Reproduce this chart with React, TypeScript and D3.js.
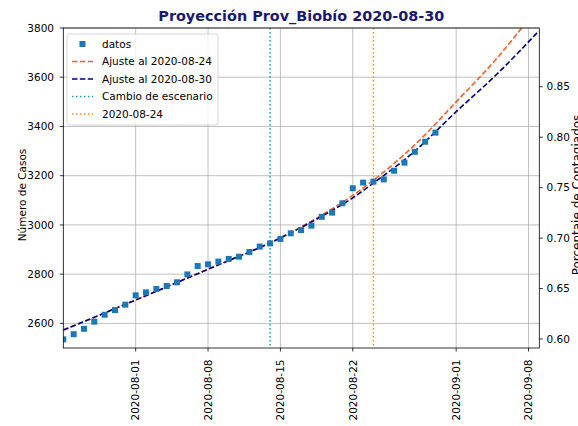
import React from "react";
import * as d3 from "d3";

const dataDates = [
  "2020-07-25","2020-07-26","2020-07-27","2020-07-28","2020-07-29","2020-07-30","2020-07-31",
  "2020-08-01","2020-08-02","2020-08-03","2020-08-04","2020-08-05","2020-08-06","2020-08-07",
  "2020-08-08","2020-08-09","2020-08-10","2020-08-11","2020-08-12","2020-08-13","2020-08-14",
  "2020-08-15","2020-08-16","2020-08-17","2020-08-18","2020-08-19","2020-08-20","2020-08-21",
  "2020-08-22","2020-08-23","2020-08-24","2020-08-25","2020-08-26","2020-08-27","2020-08-28",
  "2020-08-29","2020-08-30",
];
const dataValues = [
  2535, 2556, 2578, 2607, 2635, 2654, 2676,
  2714, 2726, 2740, 2752, 2767, 2799, 2833,
  2840, 2851, 2862, 2871, 2890, 2912, 2925,
  2943, 2966, 2979, 2997, 3033, 3050, 3088,
  3149, 3172, 3176, 3185, 3220, 3253, 3297,
  3338, 3375,
];

const fitDates = [
  "2020-07-25","2020-08-01","2020-08-08","2020-08-15","2020-08-19","2020-08-22",
  "2020-08-24","2020-08-28","2020-09-01","2020-09-05","2020-09-09",
];
const fit0830 = [2573, 2695, 2820, 2947, 3035, 3110, 3170, 3300, 3460, 3615, 3788];
const fit0824 = [2573, 2695, 2820, 2948, 3040, 3120, 3182, 3325, 3500, 3680, 3890];

const cambioDate = "2020-08-14";
const refDate = "2020-08-24";

const xTickDates = ["2020-08-01","2020-08-08","2020-08-15","2020-08-22","2020-09-01","2020-09-08"];
const yTicks = [2600, 2800, 3000, 3200, 3400, 3600, 3800];
const y2Ticks = [0.60, 0.65, 0.70, 0.75, 0.80, 0.85];

const legendLabels = ["datos", "Ajuste al 2020-08-24", "Ajuste al 2020-08-30", "Cambio de escenario", "2020-08-24"];

const parse = (s: string) => {
  const [y, m, d] = s.split("-").map(Number);
  return new Date(Date.UTC(y, m - 1, d));
};

const W = 578, H = 426;
const L = 63.3, R = 539.3, T = 28, B = 348;

const C_DATA = "#1f77b4";
const C_FIT24 = "#f4602a";
const C_FIT30 = "#00008b";
const C_CAMBIO = "#1a9ea6";
const C_REF = "#ff8c1a";
const FONT = "DejaVu Sans, sans-serif";
const FS = 10.5;

export default function App() {
  const x = d3.scaleUtc()
    .domain([parse("2020-07-25"), new Date(Date.UTC(2020, 8, 9, 1))])
    .range([L, R]);
  const y = d3.scaleLinear().domain([2500, 3800]).range([B, T]);
  const y2 = d3.scaleLinear().domain([0.5911, 0.9082]).range([B, T]);

  const line = d3.line<[string, number]>()
    .x((d) => x(parse(d[0])))
    .y((d) => y(d[1]))
    .curve(d3.curveMonotoneX);

  const p24 = line(fitDates.map((d, i) => [d, fit0824[i]]) as [string, number][]) || "";
  const p30 = line(fitDates.map((d, i) => [d, fit0830[i]]) as [string, number][]) || "";

  const legendRows = [44, 61.5, 79, 96.5, 114];

  return (
    <svg width={W} height={H} style={{ position: "absolute", left: 0, top: 0, background: "#fff" }}
      fontFamily={FONT}>
      <defs>
        <clipPath id="plot">
          <rect x={L} y={T} width={R - L} height={B - T} />
        </clipPath>
      </defs>
      <rect x={0} y={0} width={W} height={H} fill="#fff" />
      {/* grid */}
      {yTicks.map((t) => (
        <line key={"gy" + t} x1={L} x2={R} y1={y(t)} y2={y(t)} stroke="#b0b0b0" strokeWidth={0.8} />
      ))}
      {xTickDates.map((t) => (
        <line key={"gx" + t} x1={x(parse(t))} x2={x(parse(t))} y1={T} y2={B} stroke="#b0b0b0" strokeWidth={0.8} />
      ))}
      <g clipPath="url(#plot)">
        <path d={p24} fill="none" stroke={C_FIT24} strokeWidth={1.6} strokeDasharray="5.5,2.4" />
        <path d={p30} fill="none" stroke={C_FIT30} strokeWidth={1.6} strokeDasharray="5.5,2.4" />
        <line x1={x(parse(cambioDate))} x2={x(parse(cambioDate))} y1={T} y2={B}
          stroke={C_CAMBIO} strokeWidth={1.5} strokeDasharray="1.5,2.5" />
        <line x1={x(parse(refDate))} x2={x(parse(refDate))} y1={T} y2={B}
          stroke={C_REF} strokeWidth={1.5} strokeDasharray="1.5,2.5" />
      </g>
      <g clipPath="url(#plot)">
        {dataDates.map((d, i) => (
          <rect key={d} x={x(parse(d)) - 3} y={y(dataValues[i]) - 3} width={6} height={6} fill={C_DATA} />
        ))}
      </g>
      {/* spines */}
      <rect x={L} y={T} width={R - L} height={B - T} fill="none" stroke="#000" strokeWidth={0.8} />
      {/* left axis */}
      {yTicks.map((t) => (
        <g key={"yt" + t}>
          <line x1={L - 3.5} x2={L} y1={y(t)} y2={y(t)} stroke="#000" strokeWidth={0.8} />
          <text x={54} y={y(t)} dy="0.35em" textAnchor="end" fontSize={FS} fill="#000">{t}</text>
        </g>
      ))}
      {/* right axis */}
      {y2Ticks.map((t) => (
        <g key={"y2t" + t}>
          <line x1={R} x2={R + 3.5} y1={y2(t)} y2={y2(t)} stroke="#000" strokeWidth={0.8} />
          <text x={546.5} y={y2(t)} dy="0.35em" textAnchor="start" fontSize={FS} fill="#000">{t.toFixed(2)}</text>
        </g>
      ))}
      {/* bottom axis */}
      {xTickDates.map((t) => {
        const xx = x(parse(t));
        return (
          <g key={"xt" + t}>
            <line x1={xx} x2={xx} y1={B} y2={B + 3.5} stroke="#000" strokeWidth={0.8} />
            <text transform={`translate(${xx},${B + 11.5}) rotate(-90)`} dy="0.36em" textAnchor="end"
              fontSize={FS} fill="#000">{t}</text>
          </g>
        );
      })}
      {/* axis labels */}
      <text transform={`translate(25.5,195) rotate(-90)`} textAnchor="middle" fontSize={FS} fill="#000">
        Número de Casos
      </text>
      <text transform={`translate(580.5,195) rotate(-90)`} textAnchor="middle" fontSize={12} fill="#000">
        Porcentaje de Contagiados
      </text>
      {/* title */}
      <text x={(L + R) / 2} y={21} textAnchor="middle" fontSize={14.4} fontWeight="bold" fill="#191970">
        Proyección Prov_Biobío 2020-08-30
      </text>
      {/* legend */}
      <g>
        <rect x={67} y={34} width={151} height={91} rx={2.5} fill="#fff" fillOpacity={0.8} stroke="#cccccc" strokeWidth={0.8} />
        <rect x={82.5 - 3} y={legendRows[0] - 3} width={6} height={6} fill={C_DATA} />
        <line x1={72} x2={93} y1={legendRows[1]} y2={legendRows[1]} stroke={C_FIT24} strokeWidth={1.6} strokeDasharray="5.5,2.4" />
        <line x1={72} x2={93} y1={legendRows[2]} y2={legendRows[2]} stroke={C_FIT30} strokeWidth={1.6} strokeDasharray="5.5,2.4" />
        <line x1={72} x2={93} y1={legendRows[3]} y2={legendRows[3]} stroke={C_CAMBIO} strokeWidth={1.5} strokeDasharray="1.5,2.5" />
        <line x1={72} x2={93} y1={legendRows[4]} y2={legendRows[4]} stroke={C_REF} strokeWidth={1.5} strokeDasharray="1.5,2.5" />
        {legendLabels.map((lab, i) => (
          <text key={lab + i} x={102} y={legendRows[i]} dy="0.35em" fontSize={10.5} fill="#000">{lab}</text>
        ))}
      </g>
    </svg>
  );
}
